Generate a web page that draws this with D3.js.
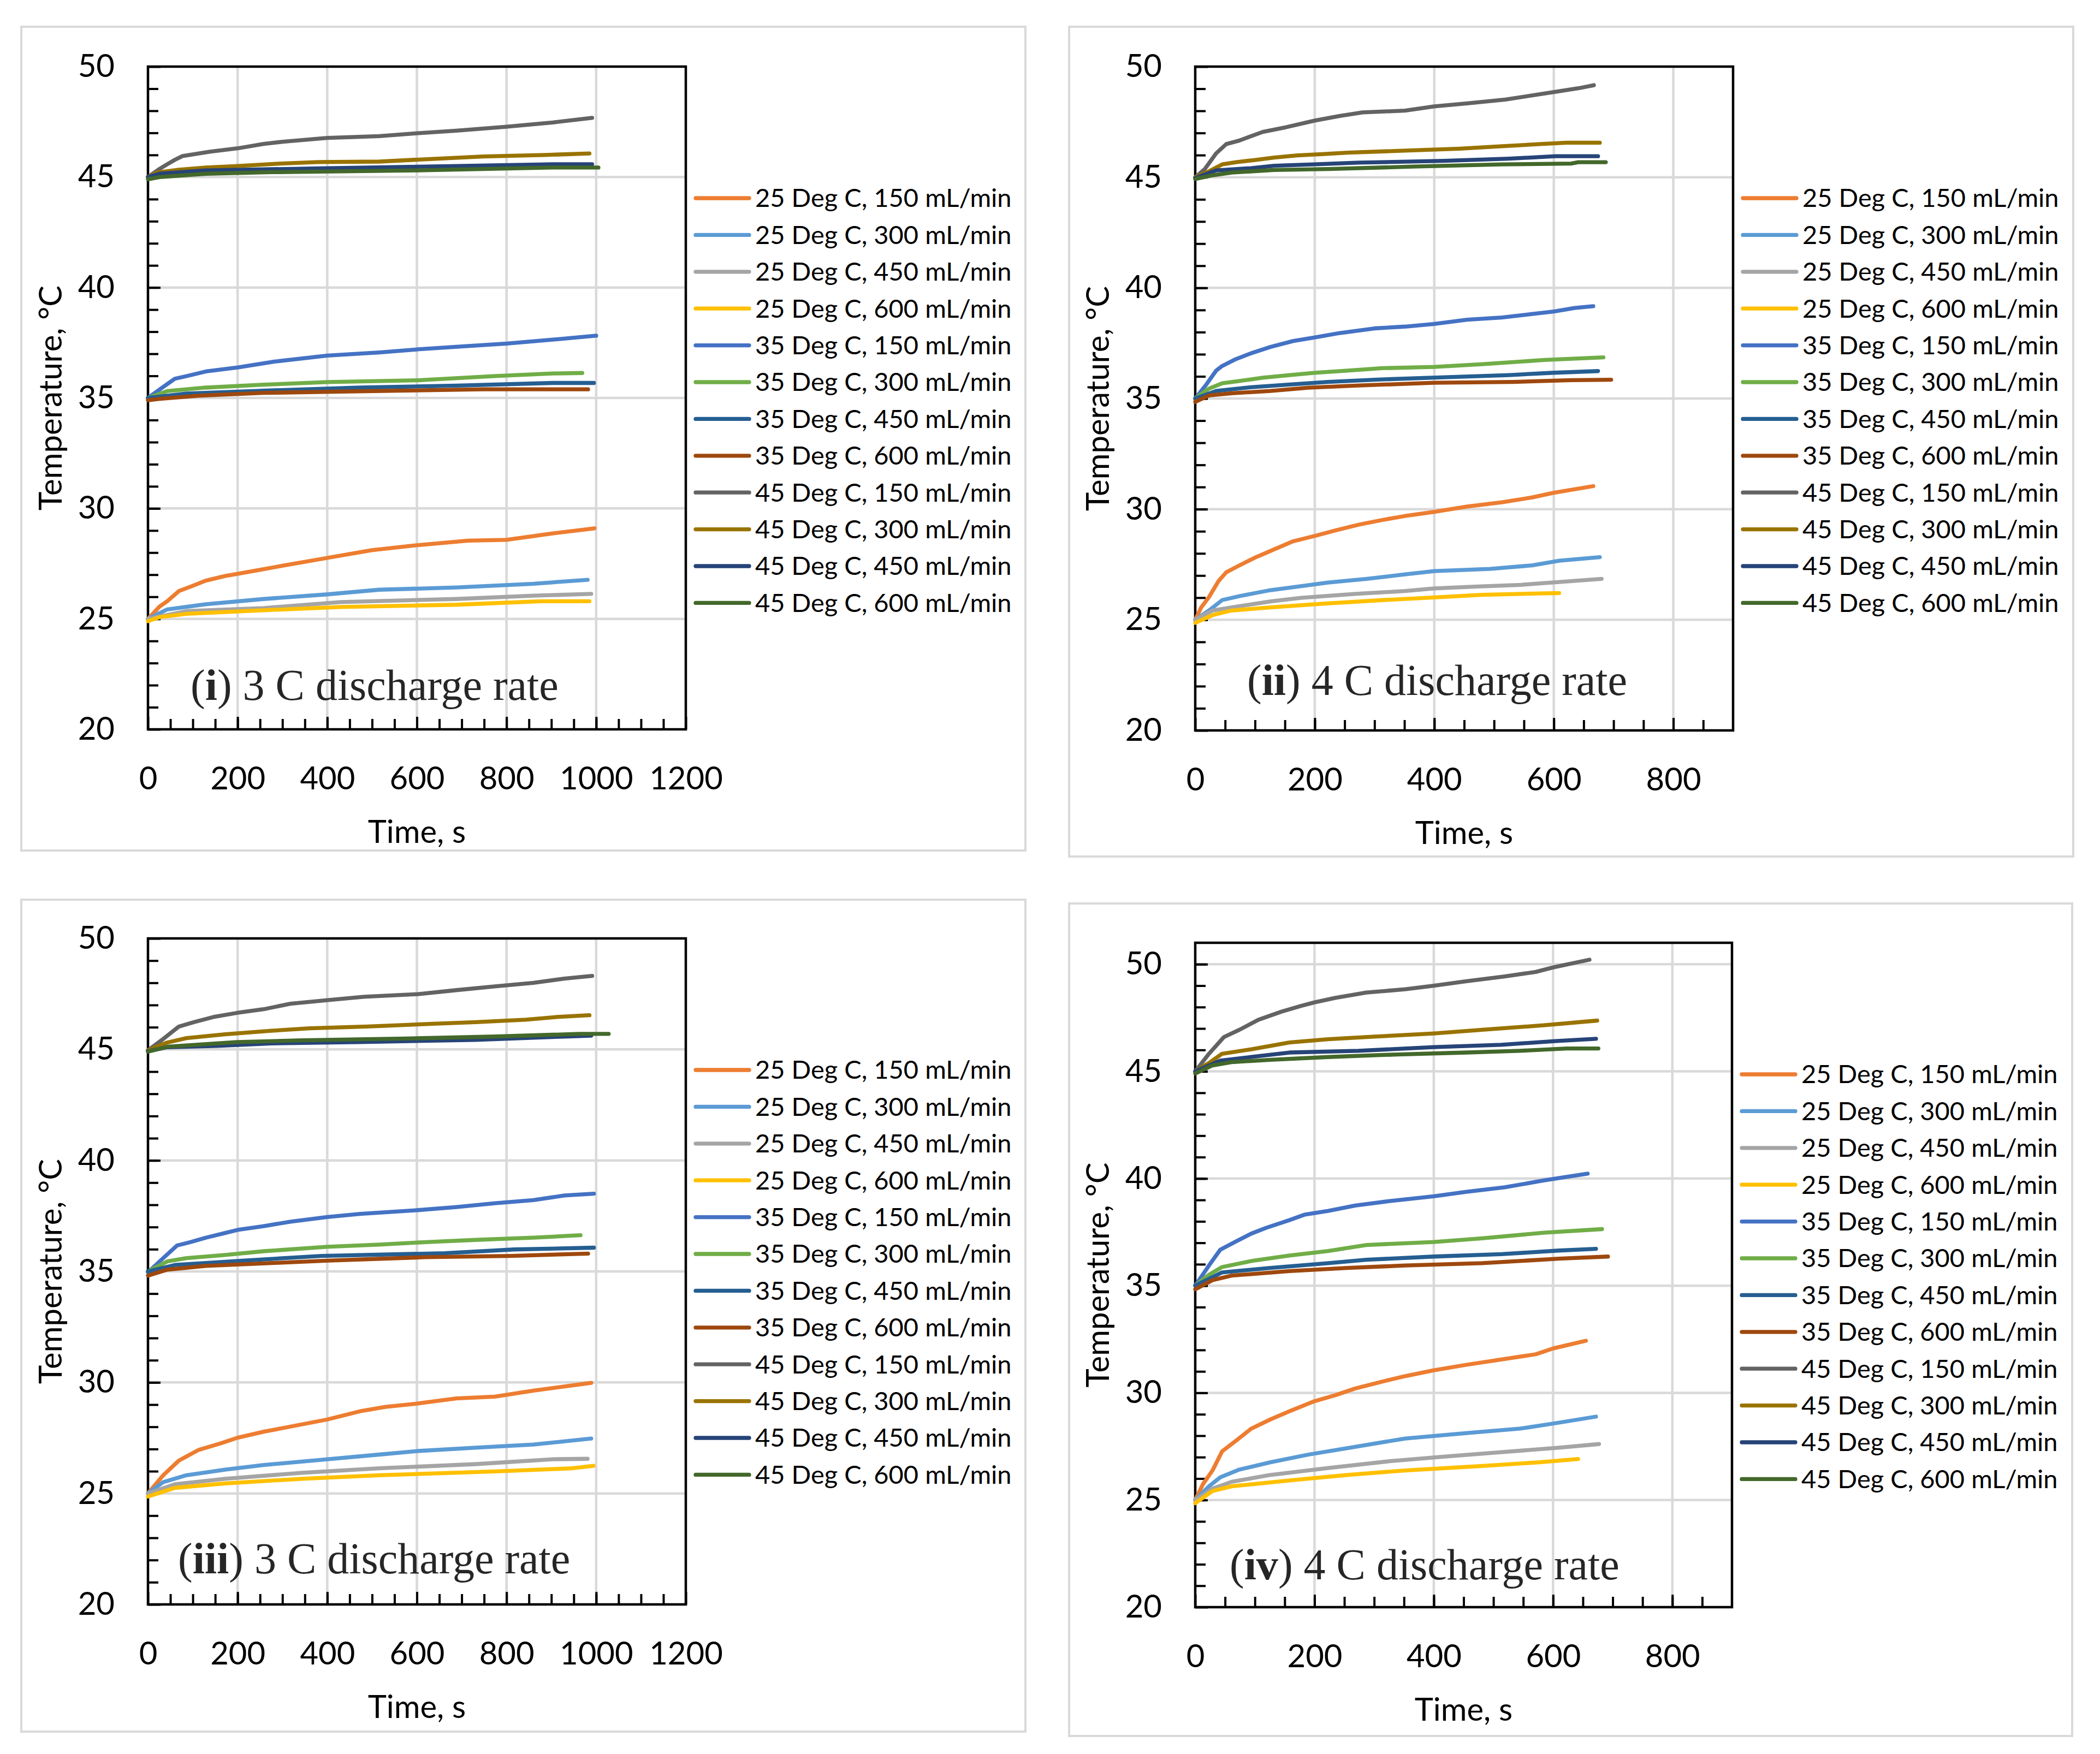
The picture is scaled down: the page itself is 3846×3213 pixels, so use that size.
<!DOCTYPE html>
<html>
<head>
<meta charset="utf-8">
<script src="https://cdn.jsdelivr.net/npm/d3@7"></script>
<style>
  body { margin: 0; background: #fff; }
  svg { display: block; }
</style>
</head>
<body>
<svg id="chart" width="3846" height="3213"></svg>
<script>
// series names and colours (same order in every panel)
const seriesNames = [
  '25 Deg C, 150 mL/min', '25 Deg C, 300 mL/min', '25 Deg C, 450 mL/min', '25 Deg C, 600 mL/min',
  '35 Deg C, 150 mL/min', '35 Deg C, 300 mL/min', '35 Deg C, 450 mL/min', '35 Deg C, 600 mL/min',
  '45 Deg C, 150 mL/min', '45 Deg C, 300 mL/min', '45 Deg C, 450 mL/min', '45 Deg C, 600 mL/min'
];
const seriesColors = [
  '#ED7D31', '#5B9BD5', '#A5A5A5', '#FFC000',
  '#4472C4', '#70AD47', '#255E91', '#9E480E',
  '#636363', '#997300', '#264478', '#43682B'
];

const xTicks3C = [0, 200, 400, 600, 800, 1000, 1200];
const xTicks4C = [0, 200, 400, 600, 800];
const yTicks = [20, 25, 30, 35, 40, 45, 50];
const panelTags = ['i', 'ii', 'iii', 'iv'];
const panelRates = ['3 C', '4 C', '3 C', '4 C'];

// [time s, temperature degC]
const panelI = [
  [[0,25],[26,25.56],[43,25.8],[69,26.26],[95,26.46],[129,26.73],[172,26.94],[200,27.04],[258,27.25],[301,27.41],[400,27.76],[499,28.11],[602,28.34],[714,28.54],[800,28.58],[903,28.87],[996,29.1]],
  [[0,25],[43,25.43],[129,25.66],[258,25.9],[400,26.11],[516,26.32],[688,26.42],[860,26.59],[981,26.77]],
  [[0,25],[86,25.35],[258,25.49],[430,25.76],[688,25.9],[860,26.05],[989,26.13]],
  [[0,24.9],[26,25.08],[86,25.23],[258,25.39],[430,25.54],[688,25.64],[877,25.8],[985,25.8]],
  [[0,35],[34,35.5],[60,35.87],[86,35.99],[129,36.2],[200,36.38],[284,36.65],[400,36.92],[516,37.06],[602,37.2],[714,37.35],[800,37.46],[903,37.64],[1000,37.82]],
  [[0,35],[43,35.31],[129,35.47],[258,35.6],[400,35.72],[602,35.8],[774,35.99],[903,36.11],[969,36.13]],
  [[0,35],[86,35.2],[258,35.33],[473,35.47],[688,35.56],[903,35.68],[995,35.68]],
  [[0,34.9],[26,34.96],[112,35.1],[258,35.23],[430,35.29],[748,35.39],[982,35.39]],
  [[0,45],[26,45.37],[43,45.58],[60,45.78],[77,45.95],[138,46.15],[200,46.3],[258,46.5],[301,46.6],[400,46.77],[516,46.85],[600,46.98],[688,47.1],[800,47.28],[903,47.47],[991,47.68]],
  [[0,45],[20,45.2],[69,45.33],[129,45.43],[200,45.5],[284,45.6],[379,45.68],[516,45.7],[594,45.78],[748,45.93],[886,46.0],[985,46.07]],
  [[0,45],[26,45.15],[129,45.3],[400,45.4],[688,45.5],[903,45.58],[991,45.58]],
  [[0,44.9],[26,45.0],[129,45.15],[275,45.22],[602,45.3],[903,45.43],[1005,45.43]]
];

const panelII = [
  [[0,25],[10,25.56],[23,26.03],[39,26.75],[52,27.15],[74,27.46],[100,27.81],[132,28.18],[164,28.55],[200,28.79],[235,29.04],[274,29.3],[313,29.51],[351,29.69],[400,29.88],[455,30.12],[513,30.31],[564,30.53],[600,30.74],[666,31.04]],
  [[0,25],[23,25.42],[45,25.89],[74,26.07],[126,26.34],[171,26.5],[222,26.68],[287,26.85],[351,27.05],[400,27.2],[493,27.3],[564,27.46],[609,27.67],[677,27.83]],
  [[0,25],[29,25.42],[61,25.56],[126,25.83],[177,25.99],[268,26.17],[351,26.3],[400,26.42],[467,26.5],[545,26.58],[609,26.71],[680,26.85]],
  [[0,24.86],[29,25.21],[61,25.42],[126,25.56],[210,25.72],[313,25.89],[400,26.01],[480,26.13],[609,26.21]],
  [[0,35],[19,35.65],[35,36.26],[45,36.47],[68,36.78],[93,37.04],[126,37.33],[164,37.6],[200,37.76],[242,37.96],[300,38.17],[351,38.25],[400,38.37],[455,38.56],[513,38.66],[564,38.82],[600,38.93],[635,39.09],[666,39.17]],
  [[0,35],[23,35.45],[45,35.69],[74,35.79],[113,35.94],[158,36.06],[200,36.16],[255,36.26],[313,36.37],[400,36.43],[480,36.55],[584,36.74],[683,36.86]],
  [[0,35],[35,35.34],[93,35.51],[158,35.63],[222,35.75],[300,35.85],[416,35.96],[525,36.06],[596,36.16],[674,36.24]],
  [[0,34.85],[23,35.14],[61,35.24],[126,35.34],[190,35.49],[274,35.59],[400,35.71],[532,35.75],[629,35.83],[696,35.85]],
  [[0,45],[16,45.37],[35,46.08],[52,46.5],[74,46.66],[93,46.85],[113,47.05],[152,47.26],[200,47.56],[242,47.77],[280,47.93],[351,48.01],[400,48.2],[455,48.34],[519,48.51],[600,48.85],[641,49.02],[667,49.16]],
  [[0,45],[23,45.27],[45,45.58],[68,45.68],[100,45.78],[132,45.89],[171,45.99],[216,46.05],[255,46.11],[358,46.21],[442,46.29],[513,46.4],[577,46.5],[622,46.56],[677,46.56]],
  [[0,44.96],[35,45.31],[93,45.41],[132,45.52],[197,45.58],[274,45.66],[416,45.74],[525,45.84],[603,45.95],[674,45.95]],
  [[0,44.92],[29,45.09],[61,45.21],[132,45.33],[222,45.37],[364,45.48],[513,45.58],[629,45.62],[641,45.68],[687,45.68]]
];

const panelIII = [
  [[0,25],[34,25.82],[69,26.48],[112,26.95],[163,27.26],[200,27.51],[258,27.78],[310,27.98],[400,28.33],[473,28.7],[530,28.9],[602,29.05],[688,29.28],[774,29.36],[860,29.63],[989,29.98]],
  [[0,25],[34,25.51],[86,25.82],[172,26.07],[258,26.28],[400,26.54],[516,26.75],[602,26.91],[731,27.06],[860,27.2],[989,27.47]],
  [[0,25],[60,25.41],[172,25.66],[344,25.93],[516,26.13],[731,26.32],[903,26.54],[981,26.56]],
  [[0,24.86],[60,25.25],[172,25.45],[344,25.66],[516,25.82],[774,25.99],[946,26.13],[994,26.24]],
  [[0,34.96],[34,35.6],[65,36.17],[95,36.32],[129,36.52],[172,36.73],[200,36.87],[258,37.04],[318,37.24],[400,37.45],[473,37.59],[602,37.76],[688,37.9],[774,38.07],[860,38.21],[929,38.42],[995,38.5]],
  [[0,35],[43,35.45],[86,35.6],[172,35.74],[258,35.91],[400,36.11],[516,36.21],[619,36.32],[731,36.42],[860,36.52],[965,36.63]],
  [[0,35],[60,35.29],[215,35.49],[387,35.7],[662,35.82],[817,35.99],[995,36.07]],
  [[0,34.81],[43,35.08],[129,35.25],[292,35.39],[404,35.49],[619,35.64],[809,35.7],[982,35.8]],
  [[0,44.96],[34,45.47],[69,46.03],[103,46.23],[146,46.46],[200,46.65],[258,46.81],[318,47.06],[400,47.22],[482,47.37],[602,47.49],[688,47.67],[774,47.84],[860,48.0],[929,48.19],[991,48.31]],
  [[0,44.96],[43,45.31],[86,45.51],[172,45.68],[275,45.84],[361,45.95],[490,46.03],[628,46.15],[731,46.23],[843,46.34],[912,46.46],[985,46.54]],
  [[0,44.92],[43,45.1],[155,45.16],[275,45.27],[473,45.33],[731,45.43],[929,45.58],[989,45.62]],
  [[0,44.9],[43,45.12],[198,45.33],[344,45.41],[576,45.49],[774,45.58],[963,45.7],[1028,45.7]]
];

const panelIV = [
  [[0,25],[13,25.74],[29,26.38],[45,27.27],[68,27.76],[94,28.33],[126,28.76],[158,29.14],[200,29.61],[235,29.89],[268,30.2],[313,30.52],[352,30.78],[400,31.05],[455,31.31],[519,31.58],[571,31.8],[600,32.07],[655,32.43]],
  [[0,25],[23,25.64],[42,26.06],[74,26.42],[126,26.76],[190,27.12],[268,27.48],[352,27.87],[455,28.12],[545,28.33],[610,28.61],[672,28.89]],
  [[0,25],[29,25.53],[61,25.85],[126,26.17],[223,26.49],[326,26.81],[416,27.02],[513,27.23],[610,27.44],[677,27.61]],
  [[0,24.85],[29,25.42],[61,25.64],[158,25.91],[255,26.17],[352,26.38],[481,26.59],[577,26.76],[642,26.91]],
  [[0,35],[23,35.94],[42,36.68],[68,37.06],[94,37.43],[119,37.7],[158,38.06],[184,38.32],[223,38.49],[268,38.74],[326,38.95],[400,39.17],[455,39.38],[519,39.59],[584,39.91],[658,40.23]],
  [[0,35],[23,35.51],[45,35.87],[94,36.15],[158,36.41],[223,36.62],[287,36.9],[400,37.04],[481,37.21],[584,37.47],[682,37.64]],
  [[0,35],[45,35.62],[126,35.83],[223,36.05],[287,36.21],[400,36.36],[513,36.47],[610,36.64],[672,36.72]],
  [[0,34.83],[29,35.26],[61,35.47],[158,35.68],[255,35.83],[352,35.94],[481,36.05],[610,36.26],[692,36.36]],
  [[0,45],[23,45.82],[48,46.6],[74,46.94],[106,47.41],[145,47.79],[177,48.05],[200,48.22],[235,48.43],[287,48.68],[352,48.83],[400,49.0],[455,49.21],[519,49.43],[571,49.64],[600,49.85],[661,50.21]],
  [[0,45],[23,45.39],[45,45.82],[94,46.03],[158,46.35],[223,46.5],[300,46.62],[400,46.77],[481,46.94],[584,47.15],[674,47.37]],
  [[0,45],[42,45.5],[94,45.67],[158,45.88],[274,45.96],[400,46.13],[513,46.24],[603,46.41],[672,46.52]],
  [[0,44.9],[29,45.28],[61,45.43],[126,45.54],[223,45.67],[339,45.79],[455,45.88],[545,45.96],[623,46.07],[676,46.07]]
];

// layout: outer box, plot area [x0,y0,x1,y1], note position
const panels = [
  { data: panelI,   xMax: 1200, xTicks: xTicks3C, yMax: 50, box: [39, 49, 1878, 1558],    plot: [271, 122, 1256, 1336],   note: [349, 1282] },
  { data: panelII,  xMax: 900,  xTicks: xTicks4C, yMax: 50, box: [1958, 49, 3797, 1569],  plot: [2189, 122, 3174, 1338],  note: [2284, 1273] },
  { data: panelIII, xMax: 1200, xTicks: xTicks3C, yMax: 50, box: [39, 1648, 1878, 3172],  plot: [271, 1719, 1256, 2939],  note: [326, 2882] },
  { data: panelIV,  xMax: 900,  xTicks: xTicks4C, yMax: 51, box: [1958, 1655, 3795, 3180], plot: [2189, 1727, 3172, 2944], note: [2252, 2893] }
];

const sans = 'Lato, "Open Sans", sans-serif';
const grid = '#d9d9d9';

const svg = d3.select('#chart');
svg.append('rect').attr('width', 3846).attr('height', 3213).attr('fill', '#fff');

panels.forEach((p, i) => drawPanel(p, i));

function drawPanel(p, idx) {
  const [bx0, by0, bx1, by1] = p.box;
  const [px0, py0, px1, py1] = p.plot;

  svg.append('rect')
    .attr('x', bx0).attr('y', by0)
    .attr('width', bx1 - bx0).attr('height', by1 - by0)
    .attr('fill', 'none').attr('stroke', grid).attr('stroke-width', 4);

  const x = d3.scaleLinear().domain([0, p.xMax]).range([px0, px1]);
  const y = d3.scaleLinear().domain([20, p.yMax]).range([py1, py0]);

  const g = svg.append('g');

  // gridlines
  g.selectAll('.hgrid')
    .data(yTicks.filter(d => d > 20 && d < p.yMax))
    .join('line')
      .attr('x1', px0).attr('x2', px1)
      .attr('y1', d => y(d)).attr('y2', d => y(d))
      .attr('stroke', grid).attr('stroke-width', 4.5);
  g.selectAll('.vgrid')
    .data(p.xTicks.filter(d => d > 0 && d < p.xMax))
    .join('line')
      .attr('x1', d => x(d)).attr('x2', d => x(d))
      .attr('y1', py0).attr('y2', py1)
      .attr('stroke', grid).attr('stroke-width', 4.5);

  // ticks (inside) and labels
  const styleAxis = s => {
    s.select('.domain').remove();
    s.selectAll('line').attr('stroke', '#000').attr('stroke-width', 4);
    s.attr('font-family', sans).attr('font-size', 58);
    s.selectAll('text').attr('fill', '#000');
  };
  g.append('g').attr('transform', `translate(${px0},0)`)
    .call(d3.axisLeft(y).tickValues(d3.range(21, p.yMax, 1)).tickSize(-19).tickFormat(''))
    .call(styleAxis);
  g.append('g').attr('transform', `translate(${px0},0)`)
    .call(d3.axisLeft(y).tickValues(yTicks).tickSize(-23).tickPadding(61).tickFormat(d3.format('d')))
    .call(styleAxis);
  g.append('g').attr('transform', `translate(0,${py1})`)
    .call(d3.axisBottom(x).tickValues(d3.range(50, p.xMax, 50)).tickSize(-19).tickFormat(''))
    .call(styleAxis);
  g.append('g').attr('transform', `translate(0,${py1})`)
    .call(d3.axisBottom(x).tickValues(p.xTicks).tickSize(-23).tickPadding(69).tickFormat(d3.format('d')))
    .call(styleAxis);

  // plot frame
  g.append('rect')
    .attr('x', px0).attr('y', py0)
    .attr('width', px1 - px0).attr('height', py1 - py0)
    .attr('fill', 'none').attr('stroke', '#000').attr('stroke-width', 4.5);

  // series
  const line = d3.line().x(d => x(d[0])).y(d => y(d[1]));
  g.selectAll('.series')
    .data(p.data)
    .join('path')
      .attr('d', line)
      .attr('fill', 'none')
      .attr('stroke', (d, i) => seriesColors[i])
      .attr('stroke-width', 7.3)
      .attr('stroke-linejoin', 'round')
      .attr('stroke-linecap', 'round');

  // axis titles
  g.append('text')
    .attr('x', (px0 + px1) / 2).attr('y', py1 + 208)
    .attr('text-anchor', 'middle')
    .attr('font-family', sans).attr('font-size', 58).attr('fill', '#000')
    .text('Time, s');
  g.append('text')
    .attr('transform', `translate(${px0 - 158},${(py0 + py1) / 2}) rotate(-90)`)
    .attr('text-anchor', 'middle')
    .attr('font-family', sans).attr('font-size', 58).attr('fill', '#000')
    .text('Temperature, °C');

  // legend
  const lx = px1 + 18, top = py0 + 241, step = 67.4;
  const items = g.selectAll('.leg')
    .data(seriesNames)
    .join('g')
      .attr('transform', (d, i) => `translate(${lx},${top + i * step})`);
  items.append('line')
    .attr('x1', 0).attr('x2', 98)
    .attr('stroke', (d, i) => seriesColors[i])
    .attr('stroke-width', 7.3).attr('stroke-linecap', 'round');
  items.append('text')
    .attr('x', 109).attr('dy', '0.35em')
    .attr('font-family', sans).attr('font-size', 47).attr('fill', '#000')
    .text(d => d);

  // panel note
  const note = g.append('text')
    .attr('x', p.note[0]).attr('y', p.note[1])
    .attr('font-family', '"Liberation Serif", "DejaVu Serif", serif')
    .attr('font-size', 80).attr('fill', '#262626');
  note.append('tspan').text('(');
  note.append('tspan').attr('font-weight', 'bold').text(panelTags[idx]);
  note.append('tspan').text(') ' + panelRates[idx] + ' discharge rate');
}
</script>
</body>
</html>
